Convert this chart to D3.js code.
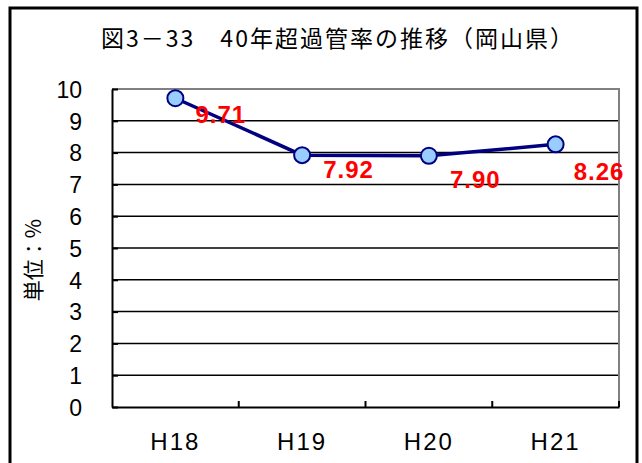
<!DOCTYPE html>
<html>
  <head>
    <meta charset="utf-8">
    <script src="https://d3js.org/d3.v7.min.js"></script>
    <style>
      body {margin: 0; background: #fff;}
      #grid line {stroke: #000; stroke-width: 1.5;}
      .axis path, .axis line {stroke: #000; stroke-width: 2;}
      .axis text {font-family: "Liberation Sans", Arial, sans-serif; fill: #000;}
    </style>
  </head>
  <body>
    <svg id="chart" width="642" height="463"></svg>
  </body>
  <script>
      // data
      let years = ["H18", "H19", "H20", "H21"];
      let rates = [9.71, 7.92, 7.90, 8.26];
      let rateLabels = ["9.71", "7.92", "7.90", "8.26"];
      let yTicks = [0, 1, 2, 3, 4, 5, 6, 7, 8, 9, 10];

      let plot = {left: 112, right: 619, top: 89, bottom: 407};
      let svg = d3.select("#chart");

      let x = d3.scaleBand().domain(years).range([plot.left, plot.right]);
      let y = d3.scaleLinear().domain([0, 10]).range([plot.bottom, plot.top]);

      // frame
      svg.append("rect").attr("x", 10).attr("y", 8).attr("width", 627).attr("height", 480)
          .attr("fill", "#fff").attr("stroke", "#000").attr("stroke-width", 3);

      svg.append("text").attr("x", 338).attr("y", 47).attr("text-anchor", "middle")
          .style("font-family", "'Noto Sans CJK JP', sans-serif").style("font-size", "23px")
          .style("letter-spacing", "2px")
          .text("図3－33　40年超過管率の推移（岡山県）");

      // gridlines
      svg.append("g").attr("id", "grid").selectAll("line")
          .data(yTicks.filter(d => d > 0 && d < 10)).enter().append("line")
          .attr("x1", plot.left).attr("x2", plot.right)
          .attr("y1", d => y(d)).attr("y2", d => y(d));

      // top and right border in gray
      svg.append("path")
          .attr("d", `M${plot.left},${y(10)}H${plot.right}V${plot.bottom}`)
          .attr("fill", "none").attr("stroke", "#808080").attr("stroke-width", 2);

      let yAxis = d3.axisLeft(y).tickValues(yTicks).tickSizeInner(-6).tickSizeOuter(0).tickPadding(30);
      let gy = svg.append("g").attr("class", "axis").attr("transform", `translate(${plot.left},0)`).call(yAxis);
      gy.selectAll("text").style("font-size", "23px").attr("dy", "0.36em");

      let xAxis = d3.axisBottom(x).tickSize(0).tickPadding(26);
      let gx = svg.append("g").attr("class", "axis").attr("transform", `translate(0,${plot.bottom})`).call(xAxis);
      gx.selectAll("text").style("font-size", "24px").style("letter-spacing", "2px");
      // inner ticks between categories
      gx.selectAll("line.sep").data(years).enter().append("line").attr("class", "sep")
          .attr("x1", d => x(d) + x.bandwidth()).attr("x2", d => x(d) + x.bandwidth())
          .attr("y1", 0).attr("y2", -6);

      svg.append("text").attr("transform", "translate(41,260) rotate(-90)")
          .attr("text-anchor", "middle")
          .style("font-family", "'Noto Sans CJK JP', sans-serif").style("font-size", "21px")
          .text("単位：%");

      let pts = years.map((d, i) => ({year: d, v: rates[i], label: rateLabels[i]}));
      let line = d3.line().x(d => x(d.year) + x.bandwidth() / 2).y(d => y(d.v));

      svg.append("path").datum(pts).attr("d", line)
          .attr("fill", "none").attr("stroke", "#000080").attr("stroke-width", 3.5);

      svg.selectAll("circle.pt").data(pts).enter().append("circle").attr("class", "pt")
          .attr("cx", d => x(d.year) + x.bandwidth() / 2).attr("cy", d => y(d.v)).attr("r", 8)
          .attr("fill", "#99ccff").attr("stroke", "#000080").attr("stroke-width", 2);

      // label placement as in the original (manually nudged)
      let labelShift = [[20, 25], [21, 23], [21, 32], [18, 36]];
      svg.selectAll("text.val").data(pts).enter().append("text").attr("class", "val")
          .attr("x", (d, i) => x(d.year) + x.bandwidth() / 2 + labelShift[i][0])
          .attr("y", (d, i) => y(d.v) + labelShift[i][1])
          .style("font-family", "'Liberation Sans', Arial, sans-serif").style("font-weight", "bold")
          .style("font-size", "24px").style("letter-spacing", "1px").attr("fill", "#ff0000")
          .text(d => d.label);
  </script>
</html>
